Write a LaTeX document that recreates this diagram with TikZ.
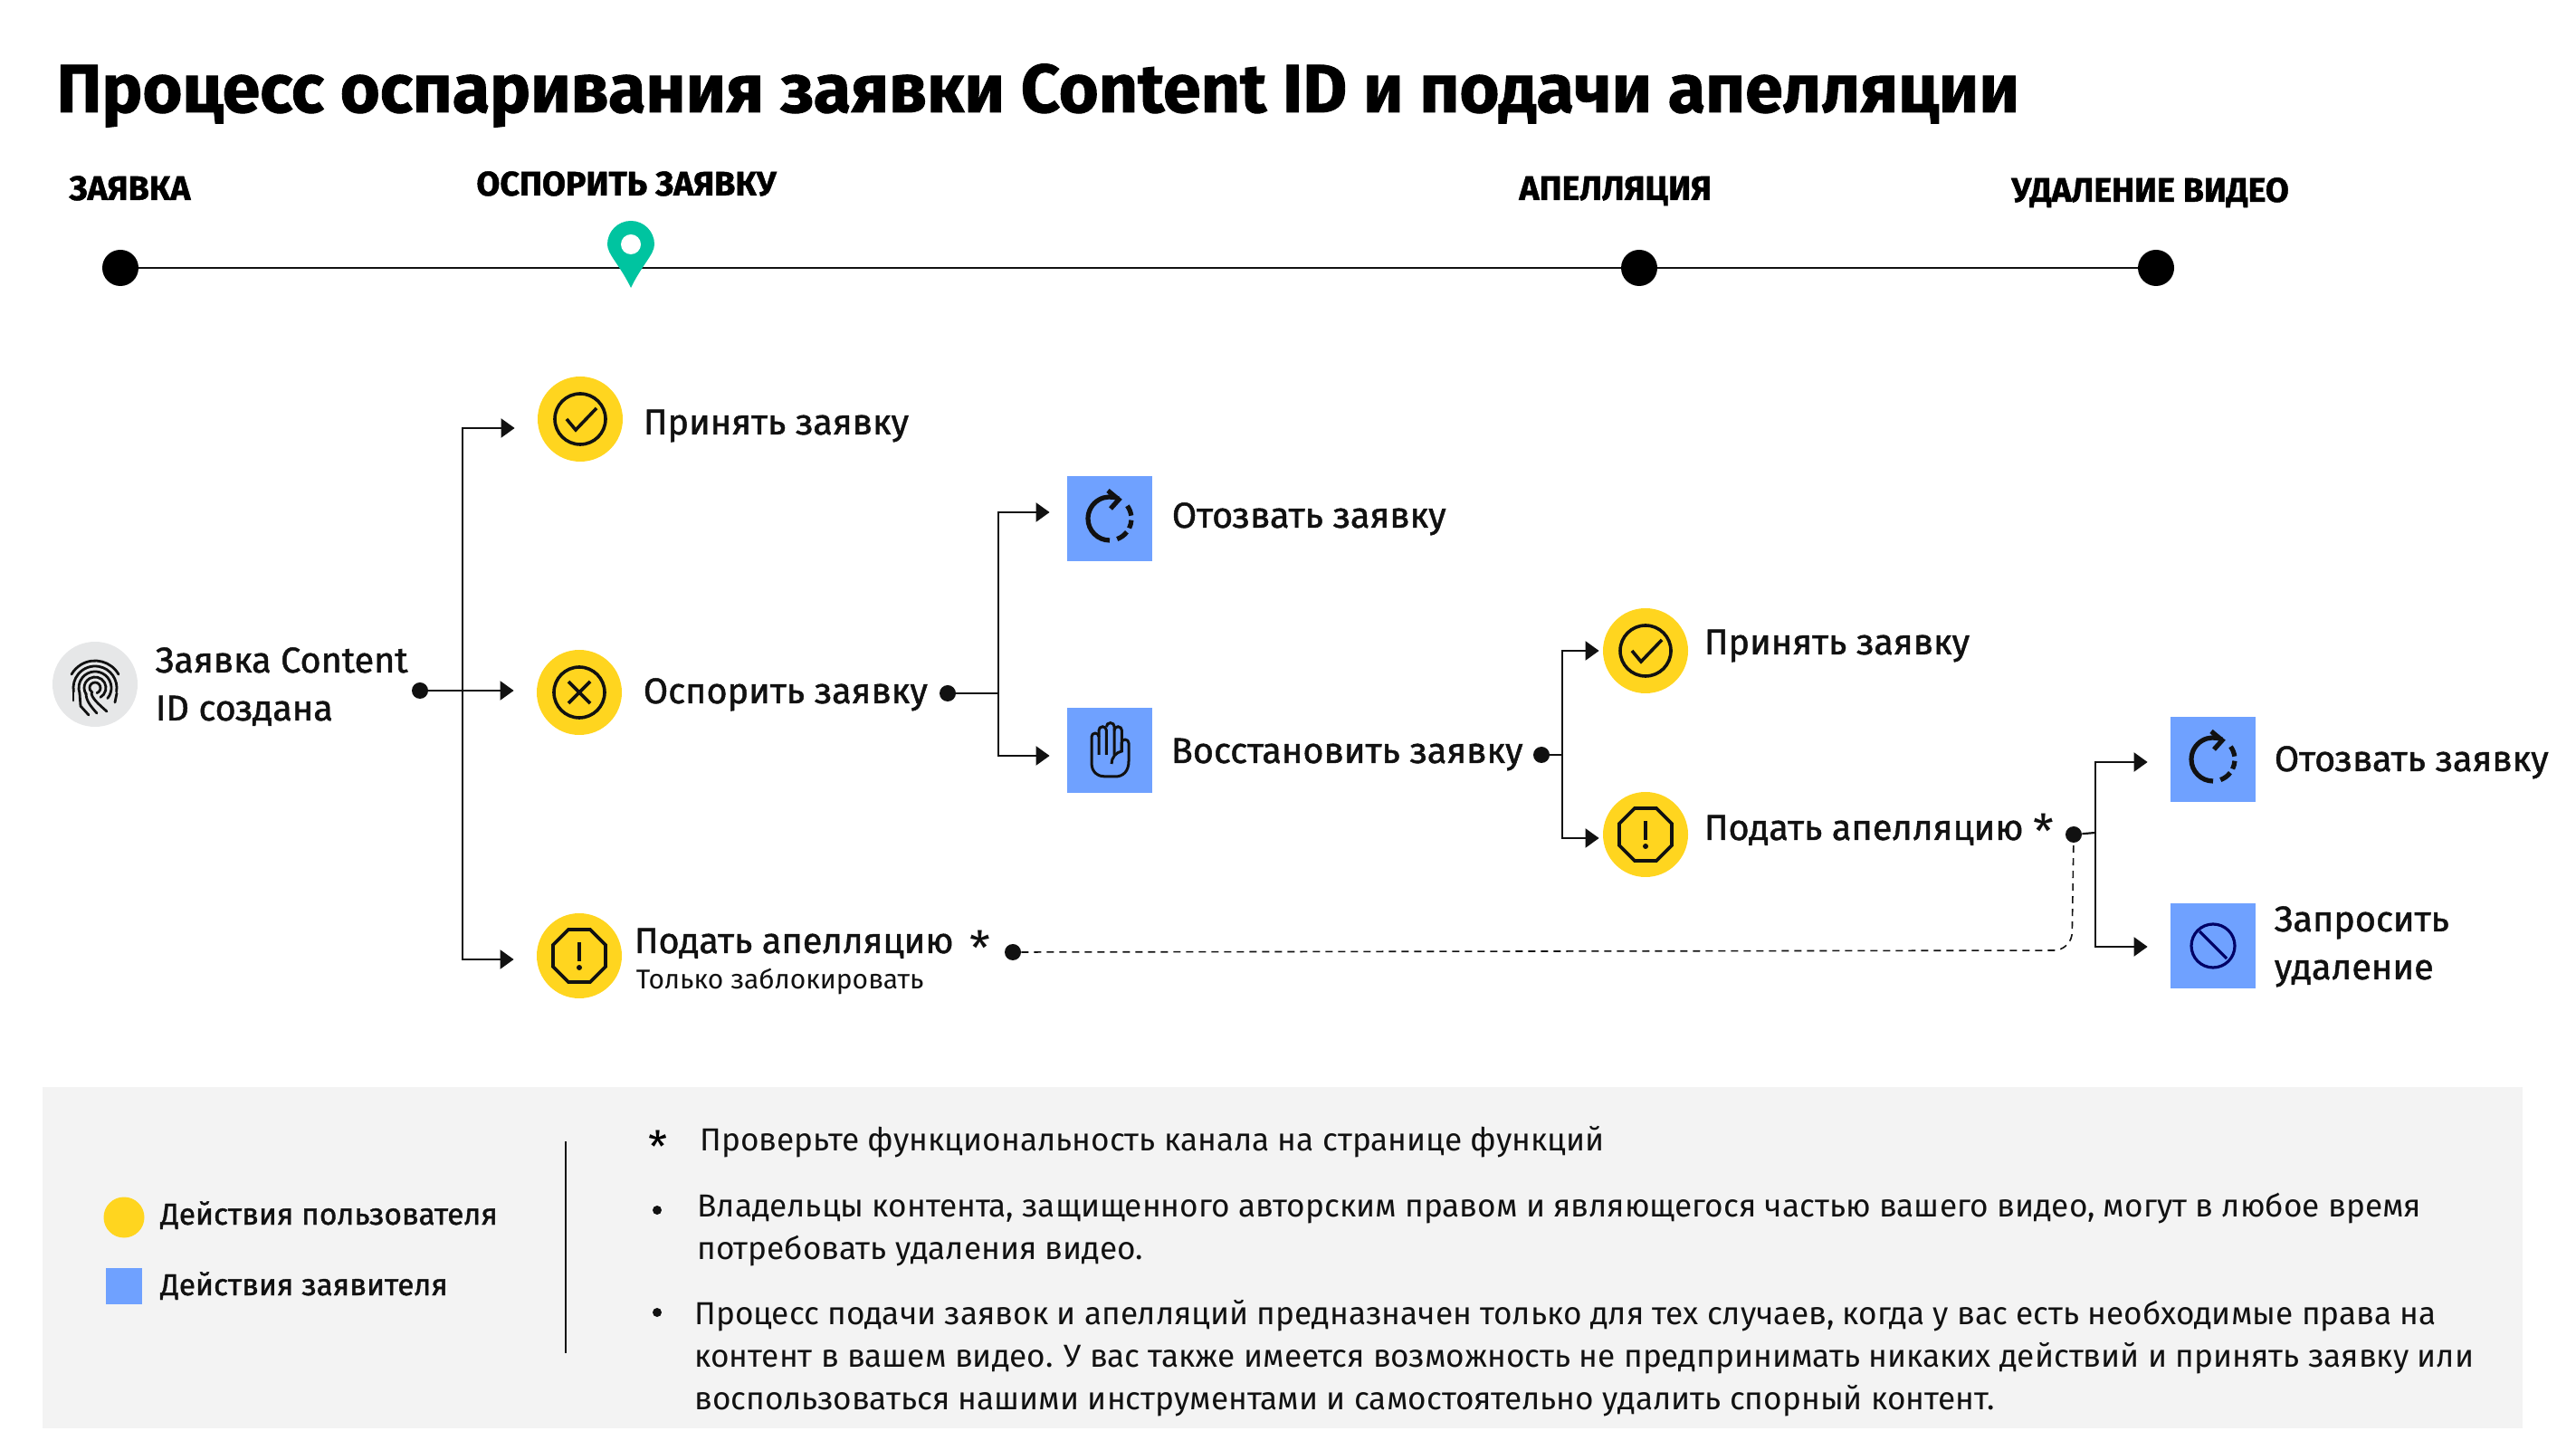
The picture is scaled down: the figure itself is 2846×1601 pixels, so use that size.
\documentclass[tikz,border=0pt]{standalone}
\usepackage{fontspec}
\setmainfont{Fira Sans}
\newfontfamily\mediumfont{Fira Sans}[FakeBold=1.2]
\newfontfamily\heavyfont{Fira Sans}[BoldFeatures={FakeBold=1.2}]
\usetikzlibrary{arrows.meta}

\definecolor{usergold}{HTML}{FFD51F}
\definecolor{claimblue}{HTML}{6FA1FF}
\definecolor{pingreen}{HTML}{00C4A0}
\definecolor{panelgray}{HTML}{F3F3F3}
\definecolor{printgray}{HTML}{E6E7E8}
\definecolor{inkblack}{HTML}{111111}
\definecolor{navyink}{HTML}{000066}

\tikzset{
    usernode/.style={circle, fill=usergold, inner sep=0pt, minimum size=47pt},
    claimnode/.style={rectangle, fill=claimblue, inner sep=0pt, minimum size=47pt},
    junction/.style={circle, fill=inkblack, inner sep=0pt, minimum size=9pt},
    stopdot/.style={circle, fill=black, inner sep=0pt, minimum size=20pt},
    steplabel/.style={anchor=base west, inner sep=0pt, font=\mediumfont\fontsize{19.8}{26.5}\selectfont, text=inkblack, align=left},
    smalllabel/.style={anchor=base west, inner sep=0pt, font=\fontsize{15}{20}\selectfont, text=inkblack},
    legendlabel/.style={anchor=base west, inner sep=0pt, font=\mediumfont\fontsize{16.7}{20}\selectfont, text=inkblack},
    notelabel/.style={anchor=base west, inner sep=0pt, font=\fontsize{17.6}{23.5}\selectfont, text=inkblack, align=left},
    stagelabel/.style={anchor=base west, inner sep=0pt, font=\heavyfont\bfseries\fontsize{18.8}{20}\selectfont},
    starlabel/.style={anchor=center, inner sep=0pt, font=\fontsize{26}{26}\selectfont, text=inkblack},
    link/.style={draw=inkblack, line width=1.1pt},
    flow/.style={link, -{Triangle[length=7.5pt,width=10.5pt]}},
    iconline/.style={draw=inkblack, line width=1.8pt},
    pics/checkicon/.style={code={
        \draw[iconline] (0,0) circle (28);
        \draw[iconline] (-15,0) -- (-5,-12) -- (18,12);
    }},
    pics/crossicon/.style={code={
        \draw[iconline] (0,0) circle (28);
        \draw[iconline] (-12,-12) -- (12,12) (-12,12) -- (12,-12);
    }},
    pics/alerticon/.style={code={
        \draw[iconline] (-12,29) -- (12,29) -- (29,12) -- (29,-12) -- (12,-29) -- (-12,-29) -- (-29,-12) -- (-29,12) -- cycle;
        \draw[iconline] (0,15) -- (0,-6);
        \fill[inkblack] (0,-13) circle (3);
    }},
    pics/refreshicon/.style={code={
        \draw[iconline, line width=2.6pt, pic actions] (0,-24) arc[start angle=270, end angle=65, radius=24];
        \draw[iconline, line width=2.6pt, pic actions] (-2,31) -- (10,21) -- (1,11);
        \foreach \from/\to in {36/8, -4/-26, -38/-70}
            \draw[iconline, line width=2.6pt, pic actions] (\from:24) arc[start angle=\from, end angle=\to, radius=24];
    }},
    pics/handicon/.style={code={
        \draw[iconline, line width=1.5pt, line join=round]
            (-12,-5) -- (-12,15) arc[start angle=0, end angle=180, radius=4] -- (-20,-14)
            .. controls (-20,-25) and (-12,-29) .. (-5,-29) -- (6,-29)
            .. controls (15,-29) and (21,-23) .. (21,-12) -- (21,8) arc[start angle=0, end angle=180, radius=4] -- (13,-1);
        \draw[iconline, line width=1.5pt] (-12,15) -- (-12,22) arc[start angle=180, end angle=0, radius=4.2] -- (-3.6,-5);
        \draw[iconline, line width=1.5pt] (-3.6,26) arc[start angle=180, end angle=0, radius=4.4] -- (5,-5);
        \draw[iconline, line width=1.5pt] (5,22) arc[start angle=180, end angle=0, radius=4.2] -- (13.4,-1)
            .. controls (7,-2) and (2,-8) .. (2,-15);
    }},
    pics/blockicon/.style={code={
        \draw[draw=navyink, line width=1.6pt] (0,0) circle (24);
        \draw[draw=navyink, line width=1.6pt] (-15,16) -- (15,-14);
    }},
    pics/printicon/.style={code={
        \foreach \rad/\from/\to in {30/30/150, 24/-10/190, 18/-40/200, 12/-60/215, 6/-70/240}
            \draw[inkblack, line width=1.4pt, line cap=round] (\from:\rad) arc[start angle=\from, end angle=\to, radius=\rad];
        \draw[inkblack, line width=1.4pt, line cap=round] (-24,2) -- (-24,-14);
        \draw[inkblack, line width=1.4pt, line cap=round] (-17,-6) -- (-16,-20) -- (-7,-30);
        \draw[inkblack, line width=1.4pt, line cap=round] (-10,-6) .. controls (-10,-14) and (-5,-20) .. (2,-28);
        \draw[inkblack, line width=1.4pt, line cap=round] (-4,-6) .. controls (-3,-12) and (4,-18) .. (13,-26);
        \draw[inkblack, line width=1.4pt, line cap=round] (24,-6) -- (22,-16);
    }}
}

\begin{document}
\begin{tikzpicture}[x=0.5pt, y=0.5pt]
    \useasboundingbox (0,0) rectangle (2846,1601);
    \node[anchor=base west, inner sep=0pt, font=\heavyfont\bfseries\fontsize{37.7}{44}\selectfont] (page_title) at (62,1477) {Процесс оспаривания заявки Content ID и подачи апелляции};

    % timeline
    \node[stopdot] (stop_claim) at (133,1305) {};
    \node[stopdot] (stop_appeal) at (1811,1305) {};
    \node[stopdot] (stop_removal) at (2382,1305) {};
    \draw[inkblack, line width=1.1pt] (stop_claim) -- (stop_appeal);
    \draw[inkblack, line width=1.1pt] (stop_appeal) -- (stop_removal);
    \fill[pingreen] (697,1283) .. controls (685,1308) and (671,1320) .. (671,1331) arc[start angle=180, end angle=0, radius=26] .. controls (723,1320) and (709,1308) .. (697,1283) -- cycle;
    \node[circle, fill=white, inner sep=0pt, minimum size=11pt] (pin_hole) at (697,1331) {};
    \node[stagelabel] (stage_claim) at (76,1380) {ЗАЯВКА};
    \node[stagelabel] (stage_dispute) at (526,1385) {ОСПОРИТЬ ЗАЯВКУ};
    \node[stagelabel] (stage_appeal) at (1678,1380) {АПЕЛЛЯЦИЯ};
    \node[stagelabel] (stage_removal) at (2222,1378) {УДАЛЕНИЕ ВИДЕО};

    % first column
    \node[circle, fill=printgray, inner sep=0pt, minimum size=47pt] (claim_start) at (105,845) {};
    \pic at (105,841) {printicon};
    \node[steplabel, xshift=9.5pt, yshift=-20pt] (claim_text) at (claim_start.east) {Заявка Content\\ID создана};
    \node[junction] (claim_dot) at (464,838) {};
    \coordinate (claim_trunk) at (511,838);

    \node[usernode] (accept_first) at (641,1138) {};
    \pic at (accept_first) {checkicon};
    \node[steplabel, xshift=11pt, yshift=-8.5pt] (accept_first_text) at (accept_first.east) {Принять заявку};
    \node[usernode] (dispute) at (640,836) {};
    \pic at (dispute) {crossicon};
    \node[steplabel, xshift=11.5pt, yshift=-6pt] (dispute_text) at (dispute.east) {Оспорить заявку};
    \node[junction] (dispute_dot) at (1047,835) {};
    \coordinate (dispute_trunk) at (1103,835);
    \node[usernode] (appeal_first) at (640,545) {};
    \pic at (appeal_first) {alerticon};
    \node[steplabel, xshift=6.5pt, yshift=1.5pt] (appeal_first_text) at (appeal_first.east) {Подать апелляцию};
    \node[smalllabel, xshift=7.5pt, yshift=-18.5pt] (appeal_first_note) at (appeal_first.east) {Только заблокировать};
    \node[starlabel] (appeal_first_star) at (1083,554) {*};
    \node[junction] (appeal_first_dot) at (1119,549) {};

    % second column
    \node[claimnode] (withdraw_first) at (1226,1028) {};
    \pic at (withdraw_first) {refreshicon};
    \node[steplabel, xshift=10.5pt, yshift=-5pt] (withdraw_first_text) at (withdraw_first.east) {Отозвать заявку};
    \node[claimnode] (reinstate) at (1226,772) {};
    \pic at (reinstate) {handicon};
    \node[steplabel, xshift=10pt, yshift=-7pt] (reinstate_text) at (reinstate.east) {Восстановить заявку};
    \node[junction] (reinstate_dot) at (1703,767) {};
    \coordinate (reinstate_trunk) at (1726,767);

    % third column
    \node[usernode] (accept_second) at (1818,882) {};
    \pic at (accept_second) {checkicon};
    \node[steplabel, xshift=8.5pt, yshift=-2pt] (accept_second_text) at (accept_second.east) {Принять заявку};
    \node[usernode] (appeal_second) at (1818,679) {};
    \pic at (appeal_second) {alerticon};
    \node[steplabel, xshift=8.5pt, yshift=-3pt] (appeal_second_text) at (appeal_second.east) {Подать апелляцию};
    \node[starlabel] (appeal_second_star) at (2258,683) {*};
    \node[junction] (appeal_second_dot) at (2291,679) {};
    \coordinate (appeal_trunk) at (2315,681);

    % fourth column
    \node[claimnode] (withdraw_second) at (2445,762) {};
    \pic[draw=navyink] at (withdraw_second) {refreshicon};
    \node[steplabel, xshift=10pt, yshift=-6.5pt] (withdraw_second_text) at (withdraw_second.east) {Отозвать заявку};
    \node[claimnode] (takedown) at (2445,556) {};
    \pic at (takedown) {blockicon};
    \node[steplabel, xshift=10pt, yshift=-18.5pt] (takedown_text) at (takedown.east) {Запросить\\удаление};

    % connectors
    \draw[link] (claim_dot) -- (claim_trunk);
    \draw[flow, shorten >=12.5pt] (claim_trunk) -- ([yshift=1pt]dispute.west);
    \draw[flow, shorten >=12.5pt] (claim_trunk) |- ([yshift=-5pt]accept_first.west);
    \draw[flow, shorten >=12.5pt] (claim_trunk) |- ([yshift=-2pt]appeal_first.west);
    \draw[link] (dispute_dot) -- (dispute_trunk);
    \draw[flow, shorten >=9.5pt] (dispute_trunk) |- ([yshift=3.5pt]withdraw_first.west);
    \draw[flow, shorten >=9.5pt] (dispute_trunk) |- ([yshift=-3pt]reinstate.west);
    \draw[link] (reinstate_dot) -- (reinstate_trunk);
    \draw[flow, shorten >=2pt] (reinstate_trunk) |- (accept_second.west);
    \draw[flow, shorten >=2pt] (reinstate_trunk) |- ([yshift=-2pt]appeal_second.west);
    \draw[link] (appeal_second_dot) -- (appeal_trunk);
    \draw[flow, shorten >=12.5pt] (appeal_trunk) |- ([yshift=-1.5pt]withdraw_second.west);
    \draw[flow, shorten >=12.5pt] (appeal_trunk) |- ([yshift=-0.5pt]takedown.west);
    \draw[inkblack, line width=0.8pt, dash pattern=on 4pt off 3pt, rounded corners=10pt] (appeal_first_dot) -- (2289,551) -- (appeal_second_dot);

    % bottom panel
    \fill[panelgray] (47,23) rectangle (2787,400);
    \node[usernode, minimum size=22.5pt] (legend_user) at (137,256) {};
    \node[claimnode, minimum size=20pt] (legend_claim) at (137,180) {};
    \node[legendlabel] (legend_user_text) at (177,248) {Действия пользователя};
    \node[legendlabel] (legend_claim_text) at (177,170) {Действия заявителя};
    \coordinate (rule_top) at (625,340);
    \coordinate (rule_bottom) at (625,106);
    \draw[inkblack, line width=0.7pt] (rule_top) -- (rule_bottom);
    \node[anchor=center, inner sep=0pt, font=\fontsize{24}{24}\selectfont] (note_star) at (727,334) {*};
    \node[notelabel] (note_one) at (773,329) {Проверьте функциональность канала на странице функций};
    \node[circle, fill=inkblack, inner sep=0pt, minimum size=5pt] (bullet_two) at (726,264) {};
    \node[notelabel] (note_two) at (770,210) {Владельцы контента, защищенного авторским правом и являющегося частью вашего видео, могут в любое время\\потребовать удаления видео.};
    \node[circle, fill=inkblack, inner sep=0pt, minimum size=5pt] (bullet_three) at (726,151) {};
    \node[notelabel] (note_three) at (767,44) {Процесс подачи заявок и апелляций предназначен только для тех случаев, когда у вас есть необходимые права на\\контент в вашем видео. У вас также имеется возможность не предпринимать никаких действий и принять заявку или\\воспользоваться нашими инструментами и самостоятельно удалить спорный контент.};
\end{tikzpicture}
\end{document}
